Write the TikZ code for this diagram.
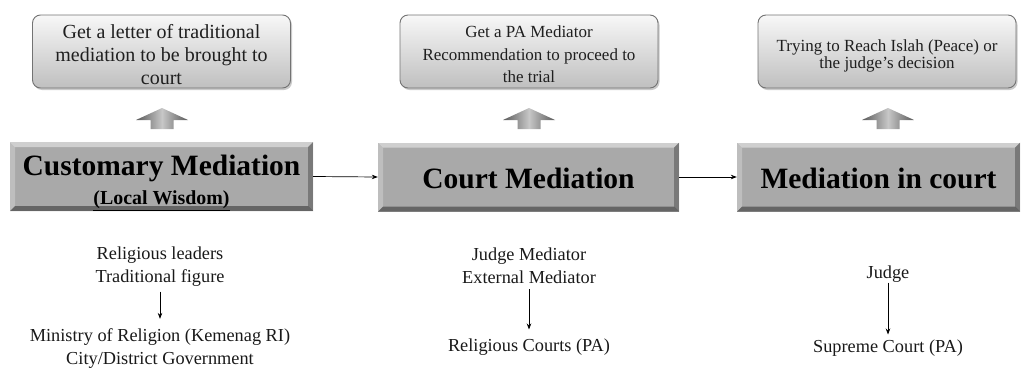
\documentclass[tikz,border=0pt]{standalone}
\usepackage{fontspec}
\setmainfont{Liberation Serif}
\usetikzlibrary{arrows.meta,shadows}
\definecolor{boxgray}{HTML}{A9A9A9}
\begin{document}
\begin{tikzpicture}[x=1pt,y=-1pt,
  topbox/.style={draw=black!55, line width=0.9pt, rounded corners=8pt,
    top color=black!3, bottom color=black!25, minimum width=258pt, minimum height=73pt,
    inner sep=0pt,
    drop shadow={shadow xshift=1.5pt, shadow yshift=-2pt, opacity=0.35, fill=black!60}},
  toptext/.style={align=center, inner sep=0pt, text=black!88},
  mainbox/.style={fill=boxgray, minimum height=69pt, inner sep=0pt,
    path picture={
      \fill[white,opacity=0.45] (path picture bounding box.north west) -- (path picture bounding box.north east)
        -- ([xshift=-5pt,yshift=-5pt]path picture bounding box.north east) -- ([xshift=5pt,yshift=-5pt]path picture bounding box.north west) -- cycle;
      \fill[white,opacity=0.25] (path picture bounding box.north west) -- ([xshift=5pt,yshift=-5pt]path picture bounding box.north west)
        -- ([xshift=5pt,yshift=5pt]path picture bounding box.south west) -- (path picture bounding box.south west) -- cycle;
      \fill[black,opacity=0.28] (path picture bounding box.north east) -- ([xshift=-5pt,yshift=-5pt]path picture bounding box.north east)
        -- ([xshift=-5pt,yshift=5pt]path picture bounding box.south east) -- (path picture bounding box.south east) -- cycle;
      \fill[black,opacity=0.4] (path picture bounding box.south west) -- ([xshift=5pt,yshift=5pt]path picture bounding box.south west)
        -- ([xshift=-5pt,yshift=5pt]path picture bounding box.south east) -- (path picture bounding box.south east) -- cycle;
    }},
  maintext/.style={font=\bfseries\fontsize{29.5}{32}\selectfont, align=center, inner sep=0pt},
  bottext/.style={font=\fontsize{18.3}{23}\selectfont, align=center, inner sep=0pt, text=black!90},
  arr/.style={-{Stealth[length=6pt,width=4.5pt]}, line width=0.7pt, black}
]
\useasboundingbox (0,0) rectangle (1025,367);

% top boxes
\node[topbox] (G1) at (161.5,51.5) {};
\node[toptext, font=\fontsize{20}{23}\selectfont] (G1t) at ([yshift=-3pt]G1.center) {Get a letter of traditional\\mediation to be brought to\\court};
\node[topbox] (G2) at (529,51.5) {};
\node[toptext, font=\fontsize{17}{22.5}\selectfont] (G2t) at ([yshift=-3pt]G2.center) {Get a PA Mediator\\Recommendation to proceed to\\the trial};
\node[topbox] (G3) at (887,51.5) {};
\node[toptext, font=\fontsize{17}{17.5}\selectfont] (G3t) at ([yshift=-4.5pt]G3.center) {Trying to Reach Islah (Peace) or\\the judge's decision};

% up block arrows
\foreach \ux in {162,529,888}{
  \shade[left color=black!65, right color=black!65, middle color=black!22]
    (\ux-26,120) -- (\ux,108) -- (\ux+26,120) -- (\ux+11.5,120) -- (\ux+11.5,129) -- (\ux-11.5,129) -- (\ux-11.5,120) -- cycle;
}

% main boxes
\node[mainbox, minimum width=303pt] (A) at (161.5,176.5) {};
\node[maintext] (Atxt) at ([yshift=-6pt]A.center) {Customary Mediation\\[-3pt]{\fontsize{19.9}{22}\selectfont\underline{(Local Wisdom)}}};
\node[mainbox, minimum width=301pt] (B) at (528.5,177) {};
\node[maintext] (Btxt) at ([yshift=-1pt]B.center) {Court Mediation};
\node[mainbox, minimum width=283pt] (C) at (878.5,177) {};
\node[maintext] (Ctxt) at ([yshift=-1.5pt]C.center) {Mediation in court};

\draw[arr] (A.east) -- (B.west);
\draw[arr] (B.east) -- (C.west);

% bottom texts
\node[bottext] (T1) at (160,266.5) {Religious leaders\\Traditional figure};
\node[bottext] (U1) at (160,349) {Ministry of Religion (Kemenag RI)\\City/District Government};
\node[bottext] (T2) at (529,266) {Judge Mediator\\External Mediator};
\node[bottext] (U2) at (529,347) {Religious Courts (PA)};
\node[bottext] (T3) at (888,274) {Judge};
\node[bottext] (U3) at (888,348) {Supreme Court (PA)};

\draw[arr, shorten <=5pt, shorten >=10pt] (T1.south) -- (U1.north);
\draw[arr, shorten <=5pt, shorten >=9pt] (T2.south) -- (U2.north);
\draw[arr, shorten <=0pt, shorten >=5pt] (T3.south) -- (U3.north);
\end{tikzpicture}
\end{document}
